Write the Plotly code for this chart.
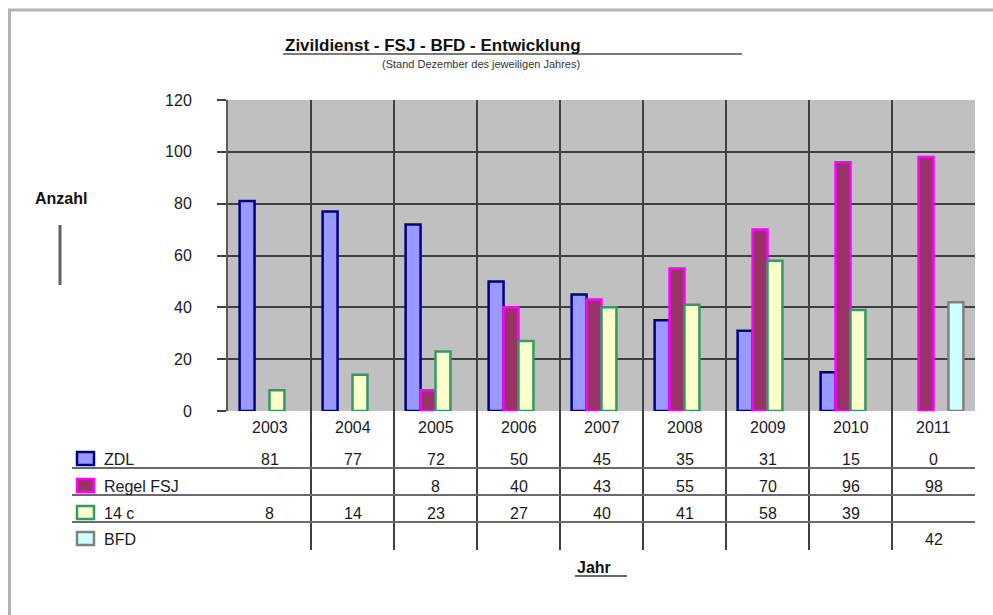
import plotly.graph_objects as go

# ---- data ----
years = ["2003", "2004", "2005", "2006", "2007", "2008", "2009", "2010", "2011"]
zdl = [81, 77, 72, 50, 45, 35, 31, 15, 0]
regel_fsj = [None, None, 8, 40, 43, 55, 70, 96, 98]
c14 = [8, 14, 23, 27, 40, 41, 58, 39, None]
bfd = [None, None, None, None, None, None, None, None, 42]

series_names = ["ZDL", "Regel FSJ", "14 c", "BFD"]
series_values = [zdl, regel_fsj, c14, bfd]
fills = ["#9999FF", "#993366", "#FFFFCC", "#CCFFFF"]
borders = ["#000080", "#FF00FF", "#339966", "#808080"]

title = "Zivildienst - FSJ - BFD - Entwicklung"
subtitle = "(Stand Dezember des jeweiligen Jahres)"
y_label = "Anzahl"
x_label = "Jahr"

# ---- layout geometry (pixels) ----
W, H = 993, 615
PL, PR, PT, PB = 228, 975, 100, 411
FONT = "Liberation Sans, Arial, sans-serif"


def px(X):
    return (X - PL) / (PR - PL)


def py(Y):
    return (PB - Y) / (PB - PT)


fig = go.Figure()
for name, vals, fc, bc in zip(series_names, series_values, fills, borders):
    fig.add_trace(go.Bar(
        x=years, y=[v if v else None for v in vals], name=name,
        marker=dict(color=fc, line=dict(color=bc, width=2.5)),
        showlegend=False,
    ))

shapes = []
annotations = []

# outer frame
shapes.append(dict(type="line", xref="paper", yref="paper",
                   x0=px(8), x1=px(993), y0=py(10), y1=py(10),
                   line=dict(color="#B4B4B4", width=3)))
shapes.append(dict(type="line", xref="paper", yref="paper",
                   x0=px(9.5), x1=px(9.5), y0=py(10), y1=py(615),
                   line=dict(color="#B4B4B4", width=3)))

# vertical category separators (plot + table)
for i in range(len(years) - 1):
    shapes.append(dict(type="line", xref="x", yref="paper",
                       x0=i + 0.5, x1=i + 0.5, y0=py(PT), y1=py(550),
                       line=dict(color="#404040", width=2), layer="above"))

# table horizontal lines
for Y in (468, 495, 522):
    shapes.append(dict(type="line", xref="paper", yref="paper",
                       x0=px(72), x1=px(975), y0=py(Y), y1=py(Y),
                       line=dict(color="#6A6A6A", width=2)))

# year labels
for i, yr in enumerate(years):
    annotations.append(dict(x=i, y=py(427), xref="x", yref="paper",
                            text=yr, showarrow=False,
                            font=dict(family=FONT, size=16, color="#1a1a1a"),
                            xanchor="center", yanchor="middle"))

# table rows
row_y = [459, 486, 513, 539]
for name, vals, fc, bc, Y in zip(series_names, series_values, fills, borders, row_y):
    shapes.append(dict(type="rect", xref="paper", yref="paper",
                       x0=px(77), x1=px(94), y0=py(Y - 7), y1=py(Y + 6),
                       fillcolor=fc, line=dict(color=bc, width=2.5)))
    annotations.append(dict(x=px(102), y=py(Y), xref="paper", yref="paper",
                            text=name, showarrow=False,
                            font=dict(family=FONT, size=16, color="#1a1a1a"),
                            xanchor="left", yanchor="middle"))
    for i, v in enumerate(vals):
        if v is None:
            continue
        annotations.append(dict(x=i, y=py(Y), xref="x", yref="paper",
                                text=str(v), showarrow=False,
                                font=dict(family=FONT, size=16, color="#1a1a1a"),
                                xanchor="center", yanchor="middle"))

# title + subtitle
annotations.append(dict(x=px(283), y=py(45), xref="paper", yref="paper",
                        text="<b>" + title + "</b>", showarrow=False,
                        font=dict(family=FONT, size=17, color="#111"),
                        xanchor="left", yanchor="middle"))
shapes.append(dict(type="line", xref="paper", yref="paper",
                   x0=px(283), x1=px(742), y0=py(54), y1=py(54),
                   line=dict(color="#7A7A7A", width=2)))
annotations.append(dict(x=px(481), y=py(64), xref="paper", yref="paper",
                        text=subtitle, showarrow=False,
                        font=dict(family=FONT, size=11, color="#333"),
                        xanchor="center", yanchor="middle"))

# y label + bar
annotations.append(dict(x=px(33), y=py(198), xref="paper", yref="paper",
                        text="<b>" + y_label + "</b>", showarrow=False,
                        font=dict(family=FONT, size=16, color="#111"),
                        xanchor="left", yanchor="middle"))
shapes.append(dict(type="line", xref="paper", yref="paper",
                   x0=px(60), x1=px(60), y0=py(225), y1=py(285),
                   line=dict(color="#606060", width=3)))

# x label
annotations.append(dict(x=px(575), y=py(567), xref="paper", yref="paper",
                        text="<b>" + x_label + "</b>", showarrow=False,
                        font=dict(family=FONT, size=16, color="#111"),
                        xanchor="left", yanchor="middle"))
shapes.append(dict(type="line", xref="paper", yref="paper",
                   x0=px(575), x1=px(627), y0=py(576), y1=py(576),
                   line=dict(color="#333", width=1.5)))

fig.update_layout(
    width=W, height=H,
    margin=dict(l=PL, r=W - PR, t=PT, b=H - PB, pad=0),
    paper_bgcolor="white",
    plot_bgcolor="#C0C0C0",
    barmode="group",
    bargap=0.28,
    bargroupgap=0,
    shapes=shapes,
    annotations=annotations,
    font=dict(family=FONT, color="#222"),
    xaxis=dict(type="category", showticklabels=False, showgrid=False,
               ticks="", zeroline=False, range=[-0.5, len(years) - 0.5]),
    yaxis=dict(range=[0, 120], dtick=20, showgrid=True,
               gridcolor="#404040", gridwidth=1.5,
               zeroline=False,
               showline=True, linecolor="#5A5A5A", linewidth=2,
               ticks="outside", ticklen=9, tickwidth=1.5, tickcolor="#404040",
               ticklabelstandoff=22,
               tickfont=dict(family=FONT, size=16, color="#1a1a1a")),
)

fig.write_html("out.html", config={"displayModeBar": False},
               post_script="document.body.style.margin='0';")
